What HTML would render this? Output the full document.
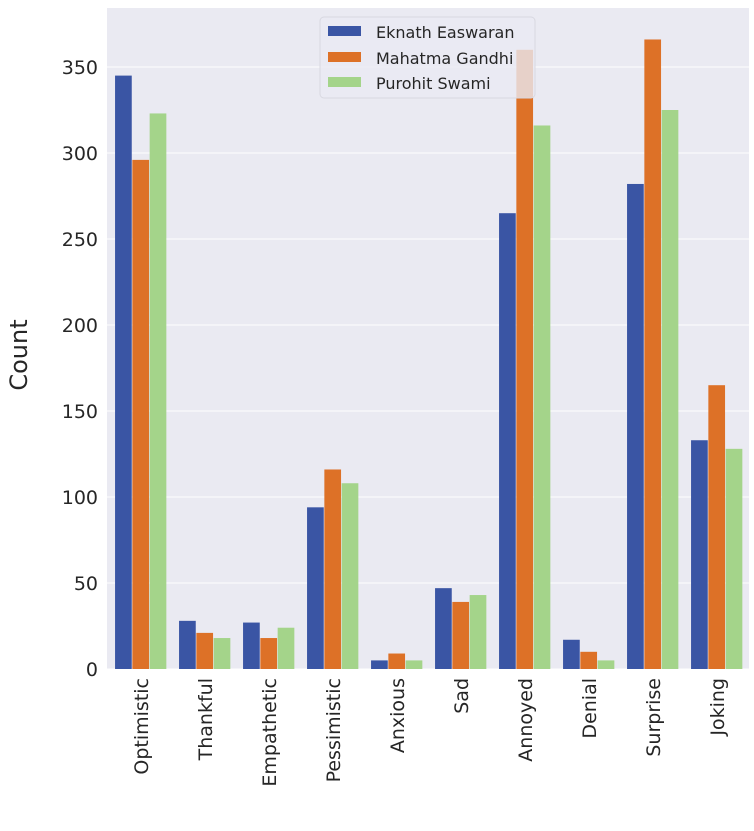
<!DOCTYPE html>
<html><head><meta charset="utf-8"><style>
body{margin:0;background:#fff;}
svg{display:block;font-family:"DejaVu Sans","Liberation Sans",sans-serif;}
</style></head><body>
<svg id="chart" width="754" height="831">
<rect x="107" y="8" width="642" height="661" fill="#eaeaf2"/>
<g id="grid"></g><g id="bars"></g><g id="yticks"></g><g id="xticks"></g>
<text x="0" y="0" transform="translate(27,355) rotate(-90)" text-anchor="middle" font-size="24" fill="#262626">Count</text>
<g>
<rect x="320" y="17" width="215" height="81" rx="4" fill="#eaeaf2" fill-opacity="0.8" stroke="#d8d8e0"/>
<g><rect x="328" y="26" width="33" height="10" fill="#3a55a4"/><text x="376" y="38" font-size="16" fill="#262626">Eknath Easwaran</text></g>
<g><rect x="328" y="52" width="33" height="10" fill="#dd7127"/><text x="376" y="64" font-size="16" fill="#262626">Mahatma Gandhi</text></g>
<g><rect x="328" y="77" width="33" height="10" fill="#a4d48a"/><text x="376" y="89" font-size="16" fill="#262626">Purohit Swami</text></g>
</g>
</svg>
<script>
const categories=["Optimistic","Thankful","Empathetic","Pessimistic","Anxious","Sad","Annoyed","Denial","Surprise","Joking"];
const easwaran=[345,28,27,94,5,47,265,17,282,133];
const gandhi=[296,21,18,116,9,39,360,10,366,165];
const swami=[323,18,24,108,5,43,316,5,325,128];
const yTicks=[0,50,100,150,200,250,300,350];
const seriesNames=["easwaran","gandhi","swami"];
const NS="http://www.w3.org/2000/svg";
const y0=669, pxPer=602/350, left=109, step=64, bw=17.3;
function yScale(v){return y0-v*pxPer;}
function xCenter(i){return left+step*(i+0.5);}
function mk(t,a,p){const e=document.createElementNS(NS,t);for(const k in a)e.setAttribute(k,a[k]);p.appendChild(e);return e;}
const grid=document.getElementById('grid'),yt=document.getElementById('yticks'),xt=document.getElementById('xticks'),bars=document.getElementById('bars');
yTicks.forEach(v=>{
 const l=mk('line',{x1:107,x2:749,y1:yScale(v),y2:yScale(v),stroke:'#fff','stroke-width':1},grid);
 
 
 const t=mk('text',{x:98,y:yScale(v)+7,'text-anchor':'end','font-size':19,fill:'#262626'},yt);
 t.textContent=v;
 
 
});
const series=[easwaran,gandhi,swami],colors=["#3a55a4","#dd7127","#a4d48a"];
categories.forEach((c,i)=>{
 series.forEach((s,j)=>{
  const x=xCenter(i)+(j-1.5)*bw;
  const r=mk('rect',{x:x,y:yScale(s[i]),width:bw-0.6,height:y0-yScale(s[i]),fill:colors[j]},bars);
  
  
 });
 const t=mk('text',{transform:`translate(${xCenter(i)+7},678) rotate(-90)`,'text-anchor':'end','font-size':19,fill:'#262626'},xt);
 t.textContent=c;
 
 
});
</script>
</body></html>
